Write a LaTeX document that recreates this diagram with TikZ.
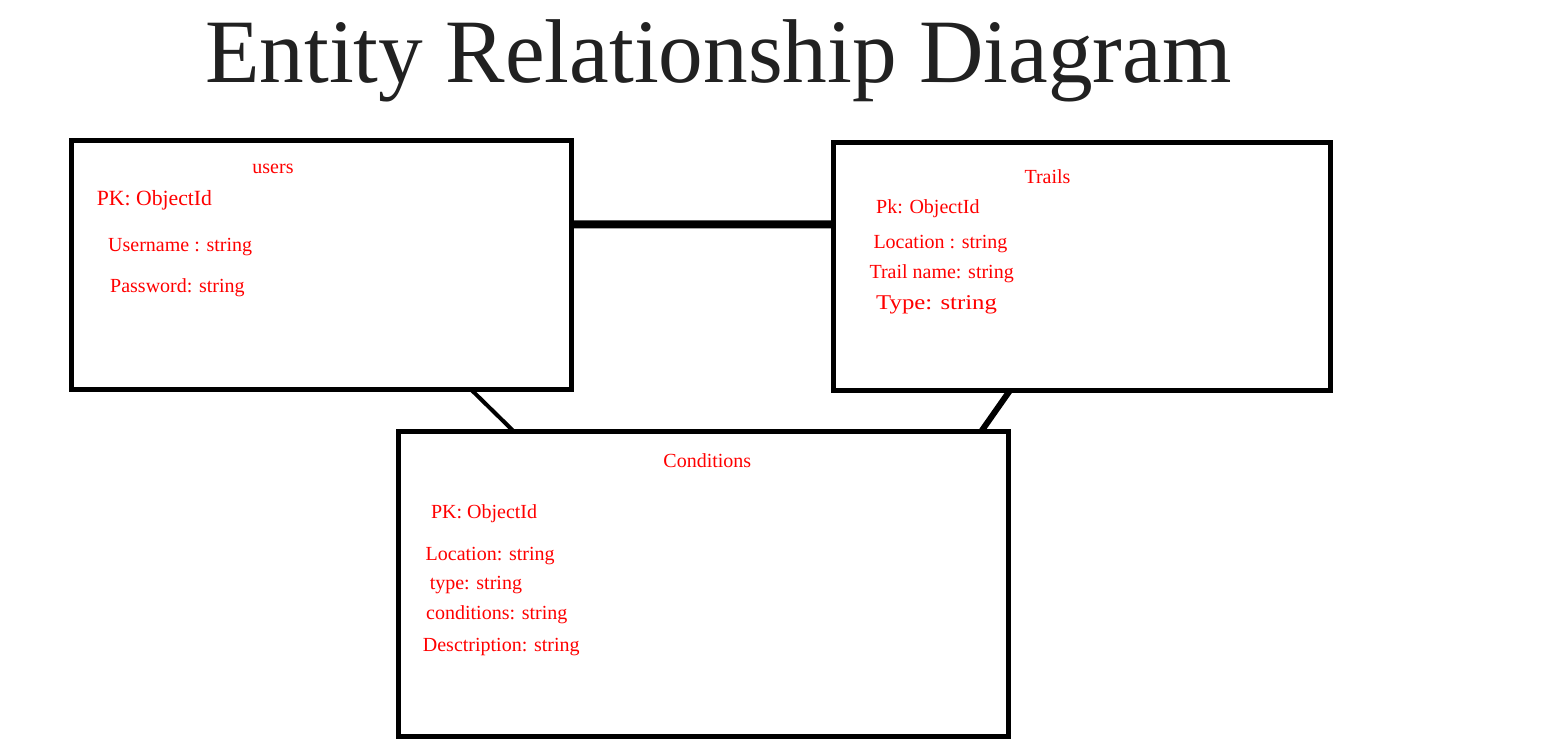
\documentclass[tikz,border=0pt]{standalone}
\usepackage{fontspec}
\setmainfont{Liberation Serif}
\usetikzlibrary{calc}
\definecolor{ertext}{RGB}{255,0,0}
\definecolor{titlegray}{RGB}{33,33,33}
\tikzset{
  entity/.style={draw=black, line width=5pt, inner sep=0pt, outer sep=0pt, anchor=north west, fill=white},
  attr/.style={text=ertext, font=\fontsize{20}{24}\selectfont, inner sep=0pt, anchor=base west},
  ename/.style={attr, anchor=base},
  link/.style={draw=black, line cap=butt}
}
\begin{document}
\begin{tikzpicture}[x=1pt,y=-1pt]
\useasboundingbox[fill=white] (0,0) rectangle (1561,754);
% title
\node[inner sep=0pt, anchor=base west, text=titlegray, font=\fontsize{90.6}{100}\selectfont] (title) at (205,83) {\scalebox{0.985}[1]{Entity Relationship Diagram}};
% entities
\node[entity, minimum width=500pt, minimum height=249pt] (users) at (71.5,140.5) {};
\node[entity, minimum width=497pt, minimum height=247.5pt] (trails) at (833.5,143) {};
\node[entity, minimum width=610pt, minimum height=305pt] (cond) at (398,431.5) {};
% connectors
\draw[link, line width=8pt] ($(users.north east)!0.337!(users.south east)$) -- ($(trails.north west)!0.329!(trails.south west)$);
\draw[link, line width=4pt] ($(users.south west)!0.799!(users.south east)$) -- ($(cond.north west)!0.19!(cond.north east)$);
\draw[link, line width=6pt] ($(trails.south west)!0.355!(trails.south east)$) -- ($(cond.north west)!0.956!(cond.north east)$);
% users
\node[ename] (u0) at (273,174) {users};
\node[attr, font=\fontsize{21.7}{26}\selectfont] (u1) at (96.7,206) {PK: ObjectId};
\node[attr] (u2) at (108,251.7) {Username : string};
\node[attr] (u3) at (110,292.7) {Password: string};
% trails
\node[ename] (t0) at (1047.5,184) {Trails};
\node[attr] (t1) at (876,214) {Pk: ObjectId};
\node[attr] (t2) at (873.3,248) {Location : string};
\node[attr] (t3) at (869.3,278.3) {Trail name: string};
\node[attr, font=\fontsize{21}{25}\selectfont] (t4) at (876,309) {\scalebox{1.18}[1]{Type: string}};
% conditions
\node[ename] (c0) at (707.3,467.3) {Conditions};
\node[attr] (c1) at (430.8,518.3) {PK: ObjectId};
\node[attr] (c2) at (425.5,560.7) {Location: string};
\node[attr] (c3) at (429.6,589.3) {type: string};
\node[attr] (c4) at (426,619.3) {conditions: string};
\node[attr] (c5) at (422.7,651.7) {Desctription: string};
\end{tikzpicture}
\end{document}
